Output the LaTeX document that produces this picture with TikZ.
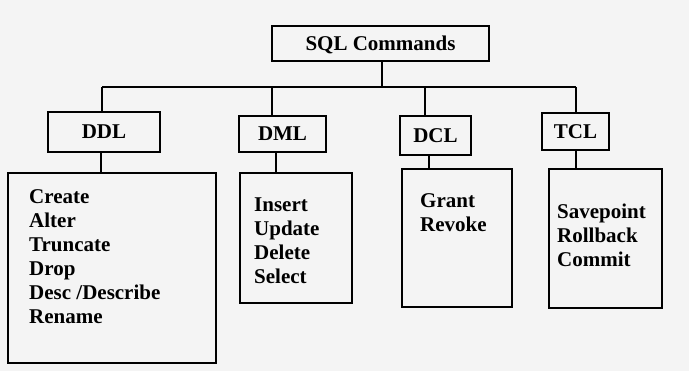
\documentclass[tikz,border=0pt]{standalone}
\usepackage{fontspec}
\setmainfont{Liberation Serif}
\definecolor{bg}{RGB}{244,244,244}
\begin{document}
\begin{tikzpicture}[x=1pt,y=-1pt,
 box/.style={draw=black, line width=1.1pt, inner sep=0pt, rectangle},
 title/.style={box, font=\fontsize{21}{24}\selectfont\bfseries, text height=14pt, text depth=0pt},
 items/.style={anchor=north west, inner sep=0pt, align=left, font=\fontsize{21}{24}\selectfont\bfseries},
 link/.style={draw=black, line width=1.1pt}]
\fill[bg] (0,0) rectangle (689,371);
\useasboundingbox (0,0) rectangle (689,371);
% title boxes
\node[title, minimum width=217pt, minimum height=35pt] (sql) at (380.5,43.5) {SQL Commands};
\node[title, minimum width=112pt, minimum height=40pt] (ddl) at (104,132) {DDL};
\node[title, minimum width=87pt, minimum height=36pt] (dml) at (282.5,134) {DML};
\node[title, minimum width=71pt, minimum height=39pt] (dcl) at (435.5,135.5) {DCL};
\node[title, minimum width=67pt, minimum height=37pt] (tcl) at (575.5,131.5) {TCL};
% list boxes
\node[box, minimum width=208pt, minimum height=190pt] (ddlbox) at (112,268) {};
\node[box, minimum width=112pt, minimum height=130pt] (dmlbox) at (296,238) {};
\node[box, minimum width=110pt, minimum height=138pt] (dclbox) at (457,238) {};
\node[box, minimum width=113pt, minimum height=139pt] (tclbox) at (605.5,238.5) {};
% list texts
\node[items] (ddltext) at (29,189) {Create\\Alter\\Truncate\\Drop\\Desc /Describe\\Rename};
\node[items] (dmltext) at (254,197.5) {Insert\\Update\\Delete\\Select};
\node[items] (dcltext) at (420,193) {Grant\\Revoke};
\node[items] (tcltext) at (557,204) {Savepoint\\Rollback\\Commit};
% connectors
\coordinate (jn) at (382,87);
\coordinate (bddl) at (102,87);
\coordinate (bdml) at (272,87);
\coordinate (bdcl) at (425,87);
\coordinate (btcl) at (576,87);
\draw[link] (sql.south -| jn) -- (jn);
\draw[link] (bddl) -- (btcl);
\draw[link] (bddl) -- (ddl.north -| bddl);
\draw[link] (bdml) -- (dml.north -| bdml);
\draw[link] (bdcl) -- (dcl.north -| bdcl);
\draw[link] (btcl) -- (tcl.north -| btcl);
\coordinate (lddl) at (101,0);
\coordinate (ldml) at (276,0);
\coordinate (ldcl) at (429,0);
\coordinate (ltcl) at (576,0);
\draw[link] (ddl.south -| lddl) -- (ddlbox.north -| lddl);
\draw[link] (dml.south -| ldml) -- (dmlbox.north -| ldml);
\draw[link] (dcl.south -| ldcl) -- (dclbox.north -| ldcl);
\draw[link] (tcl.south -| ltcl) -- (tclbox.north -| ltcl);
\end{tikzpicture}
\end{document}
